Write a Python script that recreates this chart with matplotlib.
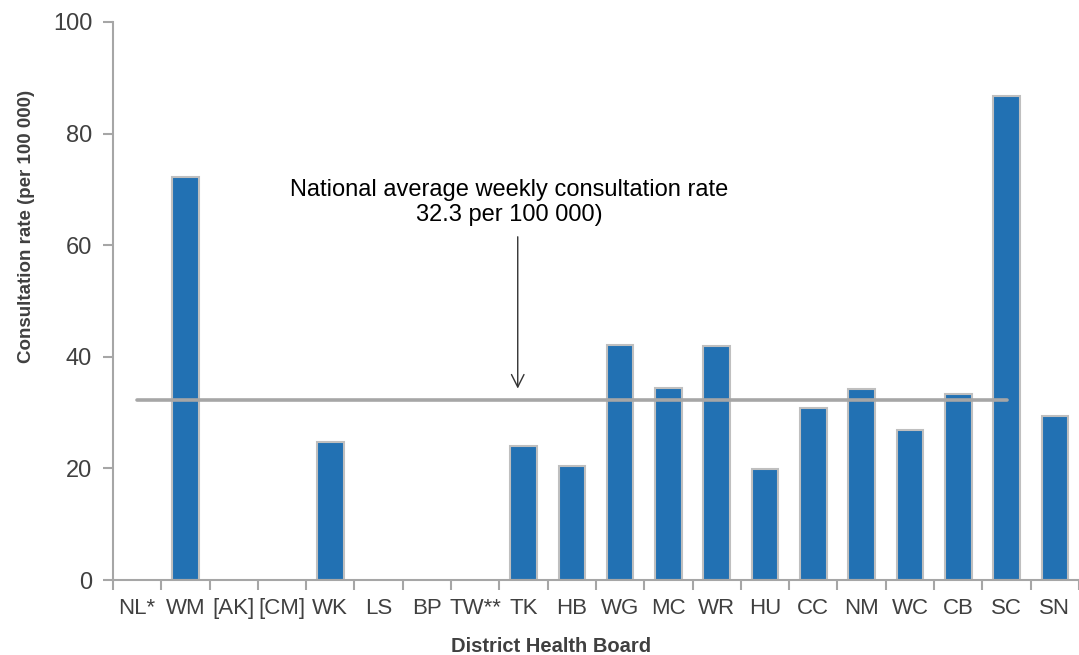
import matplotlib.pyplot as plt
import numpy as np

plt.rcParams["font.family"] = ["Liberation Sans", "DejaVu Sans"]

# district health boards and weekly consultation rates (per 100 000)
boards = ["NL*", "WM", "[AK]", "[CM]", "WK", "LS", "BP", "TW**", "TK", "HB",
          "WG", "MC", "WR", "HU", "CC", "NM", "WC", "CB", "SC", "SN"]
rates = [np.nan, 72.3, np.nan, np.nan, 24.8, np.nan, np.nan, np.nan, 24.0, 20.5,
         42.2, 34.4, 42.0, 19.9, 30.8, 34.3, 26.9, 33.3, 86.8, 29.3]
national_avg = 32.3

axis_grey = "#A6A6A6"
text_grey = "#404040"

fig = plt.figure(figsize=(10.79, 6.55), dpi=100)
ax = fig.add_axes([0.1047, 0.1145, 0.8953, 0.852])

x = np.arange(len(boards))
ax.bar(x, rates, width=0.55, color="#2271B3", edgecolor="#BFBFBF", linewidth=1.5, zorder=2)

# national average line (from first to 19th category, as in the original)
ax.plot([0, 18], [national_avg, national_avg], color=axis_grey, linewidth=2.6,
        solid_capstyle="round", zorder=3)

ax.annotate("", xy=(7.88, 34.3), xytext=(7.88, 61.5),
            arrowprops=dict(arrowstyle="->,head_length=0.9,head_width=0.45",
                            color="#333333", lw=1.0, shrinkA=0, shrinkB=0))
ax.text(7.7, 67.6, "National average weekly consultation rate\n32.3 per 100 000)",
        ha="center", va="center", multialignment="center", fontsize=17,
        linespacing=1.2, color="black")

ax.set_xlim(-0.5, len(boards) - 0.5)
ax.set_ylim(0, 100)
ax.set_yticks([0, 20, 40, 60, 80, 100])
ax.set_xticks(np.arange(-0.5, len(boards), 1.0))
ax.set_xticklabels([])
ax.set_xticks(x, minor=True)
ax.set_xticklabels(boards, minor=True)
ax.tick_params(axis="x", which="minor", length=0, pad=13, labelsize=16, labelcolor=text_grey)
ax.tick_params(axis="x", which="major", length=7, width=1.5, color=axis_grey)
ax.tick_params(axis="y", length=7, width=1.5, color=axis_grey, labelsize=17,
               labelcolor=text_grey, pad=8)

for side in ["top", "right"]:
    ax.spines[side].set_visible(False)
for side in ["left", "bottom"]:
    ax.spines[side].set_color(axis_grey)
    ax.spines[side].set_linewidth(1.5)

ax.set_xlabel("District Health Board", fontsize=14.5, fontweight="bold", color=text_grey, labelpad=13)
ax.set_ylabel("Consultation rate (per 100 000)", fontsize=13.5, fontweight="bold",
              color=text_grey, labelpad=13)
ax.xaxis.label.set_x(0.454)
ax.yaxis.label.set_y(0.634)

fig.savefig("out.png", dpi=100)
